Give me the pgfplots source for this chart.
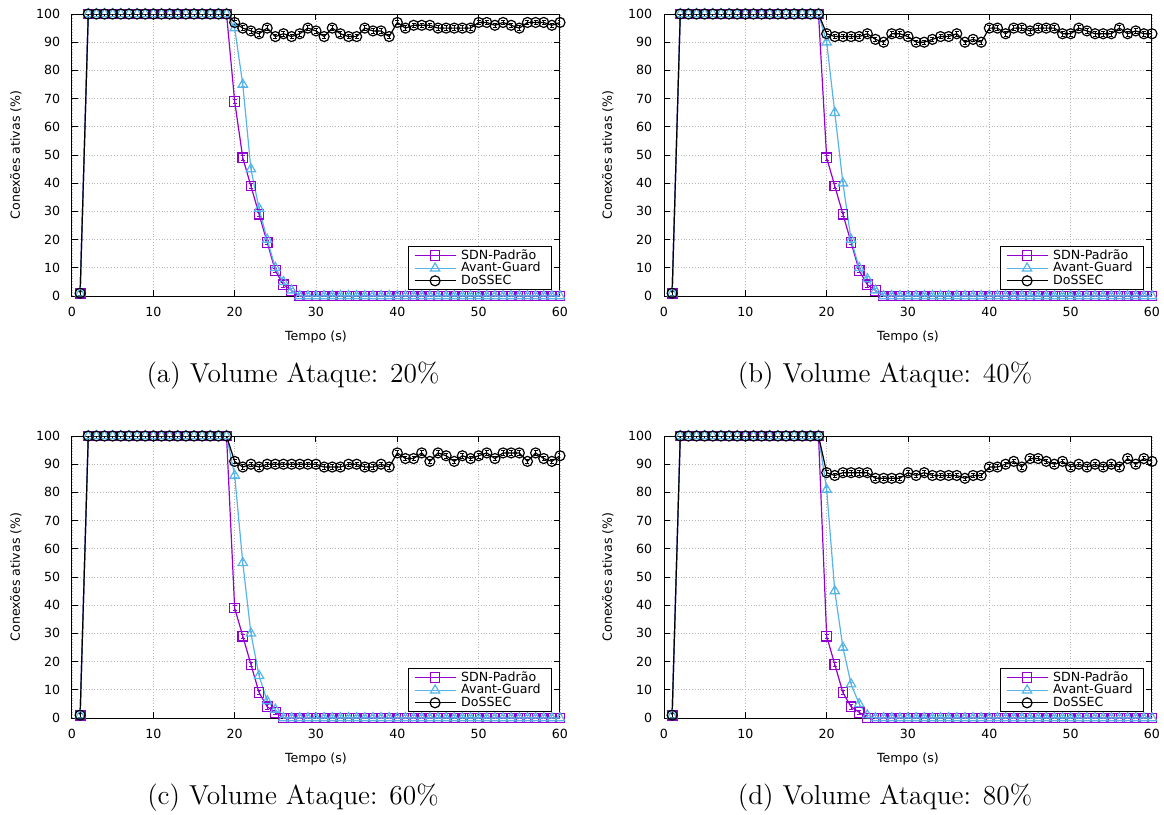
\documentclass[border=0pt]{standalone}
\usepackage{fontspec}
\usepackage{pgfplots}
\usepackage{pgfplotstable}
\pgfplotsset{compat=1.18}
\newfontfamily\dejavu{DejaVu Sans}
\definecolor{sdn}{HTML}{9400D3}
\definecolor{avg}{HTML}{56B4E9}
\newcommand\axfont{\dejavu\fontsize{6.3}{7.5}\selectfont}

% t  sdn  avant  dossec
\pgfplotstableread{
t s a d
1 1 1 1
2 100 100 100
3 100 100 100
4 100 100 100
5 100 100 100
6 100 100 100
7 100 100 100
8 100 100 100
9 100 100 100
10 100 100 100
11 100 100 100
12 100 100 100
13 100 100 100
14 100 100 100
15 100 100 100
16 100 100 100
17 100 100 100
18 100 100 100
19 100 100 100
20 69 95 97
21 49 75 95
22 39 45 94
23 29 31 93
24 19 20 95
25 9 10 92
26 4 5 93
27 2 2 92
28 0 0 93
29 0 0 95
30 0 0 94
31 0 0 92
32 0 0 95
33 0 0 93
34 0 0 92
35 0 0 92
36 0 0 95
37 0 0 94
38 0 0 94
39 0 0 92
40 0 0 97
41 0 0 95
42 0 0 96
43 0 0 96
44 0 0 96
45 0 0 95
46 0 0 95
47 0 0 95
48 0 0 95
49 0 0 95
50 0 0 97
51 0 0 97
52 0 0 96
53 0 0 97
54 0 0 96
55 0 0 95
56 0 0 97
57 0 0 97
58 0 0 97
59 0 0 96
60 0 0 97
}\tA

\pgfplotstableread{
t s a d
1 1 1 1
2 100 100 100
3 100 100 100
4 100 100 100
5 100 100 100
6 100 100 100
7 100 100 100
8 100 100 100
9 100 100 100
10 100 100 100
11 100 100 100
12 100 100 100
13 100 100 100
14 100 100 100
15 100 100 100
16 100 100 100
17 100 100 100
18 100 100 100
19 100 100 100
20 49 90 93
21 39 65 92
22 29 40 92
23 19 20 92
24 9 10 92
25 4 6 93
26 2 2 91
27 0 0 90
28 0 0 93
29 0 0 93
30 0 0 92
31 0 0 90
32 0 0 90
33 0 0 91
34 0 0 92
35 0 0 92
36 0 0 93
37 0 0 90
38 0 0 91
39 0 0 90
40 0 0 95
41 0 0 95
42 0 0 93
43 0 0 95
44 0 0 95
45 0 0 94
46 0 0 95
47 0 0 95
48 0 0 95
49 0 0 93
50 0 0 93
51 0 0 95
52 0 0 94
53 0 0 93
54 0 0 93
55 0 0 93
56 0 0 95
57 0 0 93
58 0 0 94
59 0 0 93
60 0 0 93
}\tB

\pgfplotstableread{
t s a d
1 1 1 1
2 100 100 100
3 100 100 100
4 100 100 100
5 100 100 100
6 100 100 100
7 100 100 100
8 100 100 100
9 100 100 100
10 100 100 100
11 100 100 100
12 100 100 100
13 100 100 100
14 100 100 100
15 100 100 100
16 100 100 100
17 100 100 100
18 100 100 100
19 100 100 100
20 39 86 91
21 29 55 89
22 19 30 90
23 9 15 89
24 4 6 90
25 2 3 90
26 0 0 90
27 0 0 90
28 0 0 90
29 0 0 90
30 0 0 90
31 0 0 89
32 0 0 89
33 0 0 89
34 0 0 90
35 0 0 90
36 0 0 89
37 0 0 89
38 0 0 90
39 0 0 89
40 0 0 94
41 0 0 92
42 0 0 92
43 0 0 94
44 0 0 91
45 0 0 94
46 0 0 93
47 0 0 91
48 0 0 93
49 0 0 92
50 0 0 93
51 0 0 94
52 0 0 92
53 0 0 94
54 0 0 94
55 0 0 94
56 0 0 91
57 0 0 94
58 0 0 92
59 0 0 91
60 0 0 93
}\tC

\pgfplotstableread{
t s a d
1 1 1 1
2 100 100 100
3 100 100 100
4 100 100 100
5 100 100 100
6 100 100 100
7 100 100 100
8 100 100 100
9 100 100 100
10 100 100 100
11 100 100 100
12 100 100 100
13 100 100 100
14 100 100 100
15 100 100 100
16 100 100 100
17 100 100 100
18 100 100 100
19 100 100 100
20 29 81 87
21 19 45 86
22 9 25 87
23 4 12 87
24 2 5 87
25 0 1 87
26 0 0 85
27 0 0 85
28 0 0 85
29 0 0 85
30 0 0 87
31 0 0 86
32 0 0 87
33 0 0 86
34 0 0 86
35 0 0 86
36 0 0 86
37 0 0 85
38 0 0 86
39 0 0 86
40 0 0 89
41 0 0 89
42 0 0 90
43 0 0 91
44 0 0 89
45 0 0 92
46 0 0 92
47 0 0 91
48 0 0 90
49 0 0 91
50 0 0 89
51 0 0 90
52 0 0 89
53 0 0 90
54 0 0 89
55 0 0 90
56 0 0 89
57 0 0 92
58 0 0 90
59 0 0 92
60 0 0 91
}\tD

\pgfplotsset{
  panel/.style={
    scale only axis, width=244pt, height=141pt,
    xmin=0, xmax=60, ymin=0, ymax=100,
    xtick={0,10,...,60}, ytick={0,10,...,100},
    tick align=inside, major tick length=3pt,
    grid=major, grid style={densely dotted, gray!55, line width=0.4pt},
    axis line style={line width=0.5pt},
    every tick/.style={black, line width=0.5pt},
    /pgf/number format/assume math mode=true,
    tick label style={font=\axfont},
    label style={font=\axfont},
    xlabel={Tempo (s)}, ylabel={Conexões ativas (\%)},
    xlabel style={at={(axis description cs:0.5,-0.146)}, anchor=center},
    ylabel style={at={(axis description cs:-0.115,0.5)}, anchor=center},
    xticklabel style={yshift=-2.2pt},
    yticklabel style={xshift=-2.4pt},
    legend style={font=\axfont, at={(rel axis cs:1,0)}, anchor=south east,
      xshift=-4pt, yshift=3pt, draw=black, inner xsep=3pt, inner ysep=1pt,
      row sep=-0.6pt, nodes={inner xsep=2.5pt, inner ysep=0.3pt}},
    legend cell align=left,
    legend image code/.code={\draw[mark repeat=2,mark phase=2,#1]
      plot coordinates {(0cm,0cm) (0.36cm,0cm) (0.72cm,0cm)};},
  },
  ebar/.style={/pgfplots/error bars/y dir=both, /pgfplots/error bars/y fixed=0.8,
    /pgfplots/error bars/error bar style={line width=0.4pt},
    /pgfplots/error bars/error mark options={rotate=90, mark size=1pt, line width=0.4pt}},
  sdnp/.style={color=sdn, line width=0.6pt, mark=square, mark size=2.4pt, mark options={solid, line width=0.6pt}, ebar},
  avgp/.style={color=avg, line width=0.6pt, mark=triangle, mark size=2.7pt, mark options={solid, line width=0.6pt}, ebar},
  dosp/.style={color=black, line width=0.6pt, mark=o, mark size=2.5pt, mark options={solid, line width=0.6pt}, ebar},
}

\begin{document}
\begin{tikzpicture}
\path[use as bounding box] (0,0) rectangle (582pt,-407.5pt);

\begin{axis}[panel, at={(36pt,-7pt)}, anchor=north west]
\addplot[sdnp] table[x=t,y=s] {\tA};
\addplot[avgp] table[x=t,y=a] {\tA};
\addplot[dosp] table[x=t,y=d] {\tA};
\legend{SDN-Padrão, Avant-Guard, DoSSEC}
\end{axis}

\begin{axis}[panel, at={(332pt,-7pt)}, anchor=north west]
\addplot[sdnp] table[x=t,y=s] {\tB};
\addplot[avgp] table[x=t,y=a] {\tB};
\addplot[dosp] table[x=t,y=d] {\tB};
\legend{SDN-Padrão, Avant-Guard, DoSSEC}
\end{axis}

\begin{axis}[panel, at={(36pt,-218pt)}, anchor=north west]
\addplot[sdnp] table[x=t,y=s] {\tC};
\addplot[avgp] table[x=t,y=a] {\tC};
\addplot[dosp] table[x=t,y=d] {\tC};
\legend{SDN-Padrão, Avant-Guard, DoSSEC}
\end{axis}

\begin{axis}[panel, at={(332pt,-218pt)}, anchor=north west]
\addplot[sdnp] table[x=t,y=s] {\tD};
\addplot[avgp] table[x=t,y=a] {\tD};
\addplot[dosp] table[x=t,y=d] {\tD};
\legend{SDN-Padrão, Avant-Guard, DoSSEC}
\end{axis}

\node[font=\fontsize{13.7}{16}\selectfont, anchor=base] at (146.5pt,-191pt) {(a) Volume Ataque: 20\%};
\node[font=\fontsize{13.7}{16}\selectfont, anchor=base] at (442.5pt,-191pt) {(b) Volume Ataque: 40\%};
\node[font=\fontsize{13.7}{16}\selectfont, anchor=base] at (146.5pt,-402pt) {(c) Volume Ataque: 60\%};
\node[font=\fontsize{13.7}{16}\selectfont, anchor=base] at (442.5pt,-402pt) {(d) Volume Ataque: 80\%};
\end{tikzpicture}
\end{document}
